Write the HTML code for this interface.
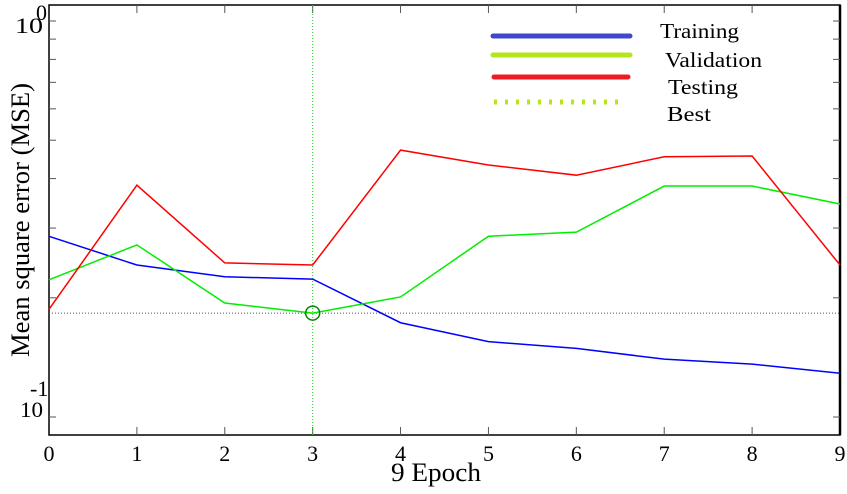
<!DOCTYPE html>
<html><head><meta charset="utf-8"><style>
html,body{margin:0;padding:0;background:#fff;}
svg{display:block;font-family:"Liberation Serif",serif;}
</style></head><body>
<svg id="chart" width="847" height="494" viewBox="0 0 847 494" xmlns="http://www.w3.org/2000/svg">
<g id="axes"></g>
<g id="series"></g>
<g>
  <line x1="493" y1="36" x2="630" y2="36" stroke="#3f48cc" stroke-width="5" stroke-linecap="round"/>
  <line x1="493" y1="55" x2="630" y2="55" stroke="#b5e61d" stroke-width="5" stroke-linecap="round"/>
  <line x1="494" y1="77" x2="628" y2="77" stroke="#ed1c24" stroke-width="5" stroke-linecap="round"/>
  <line x1="494" y1="102" x2="624" y2="102" stroke="#b5e61d" stroke-width="5" stroke-dasharray="3,8"/>
  <text x="660" y="38" font-size="21" textLength="79" lengthAdjust="spacingAndGlyphs">Training</text>
  <text x="665" y="67" font-size="21" textLength="97" lengthAdjust="spacingAndGlyphs">Validation</text>
  <text x="668" y="94" font-size="21" textLength="70" lengthAdjust="spacingAndGlyphs">Testing</text>
  <text x="667" y="121" font-size="21" textLength="44" lengthAdjust="spacingAndGlyphs">Best</text>
</g>
<text x="391" y="481" font-size="26" textLength="90" lengthAdjust="spacingAndGlyphs">9 Epoch</text>
<text transform="translate(29,357) rotate(-90)" font-size="26" textLength="274" lengthAdjust="spacingAndGlyphs">Mean square error (MSE)</text>
</svg>
<script>
const epochs = [0,1,2,3,4,5,6,7,8,9];
const training = [0.286,0.242,0.226,0.223,0.173,0.155,0.149,0.140,0.136,0.129];
const validation = [0.222,0.272,0.194,0.183,0.201,0.286,0.293,0.383,0.383,0.345];
const testing = [0.187,0.385,0.245,0.242,0.472,0.433,0.408,0.454,0.456,0.242];
const bestEpoch = 3;
const bestValue = 0.183;
const yTicks = [1.0,0.9,0.8,0.7,0.6,0.5,0.4,0.3,0.2,0.1];

const NS = "http://www.w3.org/2000/svg";
const L = 49, R = 840, T = 5, B = 435;
function xs(e){ return L + (R - L) * e / 9; }
function ys(v){ return 21 - 396 * Math.log10(v); }
function mk(tag, attrs, parent){
  const el = document.createElementNS(NS, tag);
  for (const k in attrs) el.setAttribute(k, attrs[k]);
  parent.appendChild(el);
  return el;
}
const axes = document.getElementById('axes');
const series = document.getElementById('series');

let fr = mk('rect', {x:L, y:T, width:R-L, height:B-T, fill:'none', stroke:'#000', 'stroke-width':1.5}, axes);


let ra = mk('line', {x1:R, y1:T, x2:R, y2:B, stroke:'#000', 'stroke-width':2.5}, axes);



epochs.forEach(e => {
  const x = xs(e);
  if (e > 0 && e < 9) {
    mk('line', {x1:x, y1:B, x2:x, y2:B-8, stroke:'#555', 'stroke-width':1}, axes);
    mk('line', {x1:x, y1:T, x2:x, y2:T+8, stroke:'#555', 'stroke-width':1}, axes);
  }
  const t = mk('text', {x:x, y:461, 'font-size':22, 'text-anchor':'middle'}, axes);
  t.textContent = String(e);
  
  
});
yTicks.forEach(v => {
  const y = ys(v);
  if (y > T && y < B) {
    mk('line', {x1:L, y1:y, x2:L+7, y2:y, stroke:'#555', 'stroke-width':1}, axes);
    mk('line', {x1:R, y1:y, x2:R-7, y2:y, stroke:'#555', 'stroke-width':1}, axes);
  }
});
let t1 = mk('text', {x:15, y:33, 'font-size':22, textLength:28, lengthAdjust:'spacingAndGlyphs'}, axes);
t1.textContent = '10';


let t1e = mk('text', {x:36, y:20, 'font-size':22}, axes);
t1e.textContent = '0';


let t2e = mk('text', {x:30, y:396, 'font-size':22}, axes);
t2e.textContent = '-1';


let t2 = mk('text', {x:20, y:417, 'font-size':22, textLength:23, lengthAdjust:'spacingAndGlyphs'}, axes);
t2.textContent = '10';



let hb = mk('line', {x1:L, y1:ys(bestValue), x2:R, y2:ys(bestValue), stroke:'#555', 'stroke-width':1, 'stroke-dasharray':'1,2'}, series);


let vb = mk('line', {x1:xs(bestEpoch), y1:T, x2:xs(bestEpoch), y2:B, stroke:'#22cc22', 'stroke-width':1, 'stroke-dasharray':'1,2'}, series);



function line(data, color, name){
  const pts = data.map((v,i) => xs(epochs[i]) + ',' + ys(v)).join(' ');
  const p = mk('polyline', {points:pts, fill:'none', stroke:color, 'stroke-width':1.5}, series);
  
  
}
line(training, '#0000ff', 'training-line');
line(validation, '#00ee00', 'validation-line');
line(testing, '#ff0000', 'testing-line');

let c = mk('circle', {cx:xs(bestEpoch), cy:ys(bestValue), r:7, fill:'none', stroke:'#008800', 'stroke-width':1.5}, series);


</script>
</body></html>
